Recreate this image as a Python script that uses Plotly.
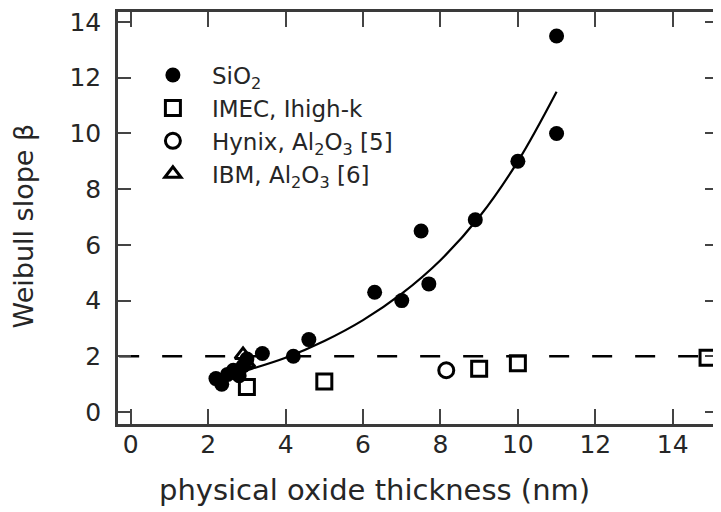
import plotly.graph_objects as go

# SiO2 data (filled circles)
sio2_x = [2.2, 2.35, 2.5, 2.65, 2.8, 2.9, 3.0, 3.4, 4.2, 4.6, 6.3, 7.0, 7.5, 7.7, 8.9, 10.0, 11.0, 11.0]
sio2_y = [1.2, 1.0, 1.35, 1.5, 1.3, 1.65, 1.9, 2.1, 2.0, 2.6, 4.3, 4.0, 6.5, 4.6, 6.9, 9.0, 10.0, 13.5]

# IMEC high-k (open squares)
imec_x = [3.0, 5.0, 9.0, 10.0, 14.9]
imec_y = [0.9, 1.1, 1.55, 1.75, 1.95]

# Hynix Al2O3 (open circles)
hynix_x = [8.15]
hynix_y = [1.5]

# IBM Al2O3 (open triangles)
ibm_x = [2.9, 3.0]
ibm_y = [2.05, 1.75]

# fit curve
fit_x = [2.5, 3.0, 4.0, 5.0, 6.0, 7.0, 8.0, 9.0, 10.0, 11.0]
fit_y = [1.3, 1.5, 1.95, 2.55, 3.3, 4.25, 5.45, 7.0, 9.0, 11.5]

# reference level
ref_x = [-0.3, 15.2]
ref_y = [2.0, 2.0]

x_ticks = [0, 2, 4, 6, 8, 10, 12, 14]
y_ticks = [0, 2, 4, 6, 8, 10, 12, 14]

FONT = "DejaVu Sans, Verdana, sans-serif"
INK = "#262626"

fig = go.Figure()

fig.add_trace(go.Scatter(x=ref_x, y=ref_y, mode="lines", showlegend=False,
                         line=dict(color="black", width=2.5, dash="20px,23px")))
fig.add_trace(go.Scatter(x=fit_x, y=fit_y, mode="lines", showlegend=False,
                         line=dict(color="black", width=2.2, shape="spline")))

fig.add_trace(go.Scatter(x=sio2_x, y=sio2_y, mode="markers", name="SiO<sub>2</sub>",
                         marker=dict(symbol="circle", size=15, color="black")))
fig.add_trace(go.Scatter(x=imec_x, y=imec_y, mode="markers", name="IMEC, Ihigh-k",
                         marker=dict(symbol="square-open", size=15, color="black",
                                     line=dict(width=3, color="black"))))
fig.add_trace(go.Scatter(x=hynix_x, y=hynix_y, mode="markers",
                         name="Hynix, Al<sub>2</sub>O<sub>3</sub> [5]",
                         marker=dict(symbol="circle-open", size=15, color="black",
                                     line=dict(width=3, color="black"))))
fig.add_trace(go.Scatter(x=ibm_x, y=ibm_y, mode="markers",
                         name="IBM, Al<sub>2</sub>O<sub>3</sub> [6]",
                         marker=dict(symbol="triangle-up-open", size=14, color="black",
                                     line=dict(width=3, color="black"))))

fig.update_layout(
    width=713, height=504,
    margin=dict(l=110, r=0, t=2, b=88),
    paper_bgcolor="white", plot_bgcolor="white",
    font=dict(family=FONT, color=INK, size=23),
    showlegend=True,
    legend=dict(x=0.0265, y=0.899, xanchor="left", yanchor="top",
                bgcolor="rgba(0,0,0,0)", font=dict(size=23, color=INK),
                itemwidth=68, tracegroupgap=0),
    xaxis=dict(range=[-0.33, 15.17], tickvals=x_ticks, ticks="inside", ticklen=15,
               tickwidth=2, tickcolor="#444", showline=True, linecolor="#3a3a3a",
               linewidth=2.5, mirror="ticks", showgrid=False, zeroline=False,
               tickfont=dict(size=25, color=INK), ticklabelstandoff=-4,
               ticklabeloverflow="allow"),
    yaxis=dict(range=[-0.43, 14.36], tickvals=y_ticks, ticks="inside", ticklen=13,
               tickwidth=2, tickcolor="#444", showline=True, linecolor="#3a3a3a",
               linewidth=2.5, mirror="ticks", showgrid=False, zeroline=False,
               tickfont=dict(size=25, color=INK), ticklabelstandoff=9,
               ticklabeloverflow="allow"),
    annotations=[
        dict(text="physical oxide thickness (nm)", xref="paper", yref="paper",
             x=0.428, y=-0.159, xanchor="center", yanchor="middle", showarrow=False,
             font=dict(size=29, color=INK)),
        dict(text="Weibull slope β", xref="paper", yref="paper",
             x=-0.158, y=0.48, xanchor="center", yanchor="middle", showarrow=False,
             textangle=-90, font=dict(size=27, color=INK)),
    ],
)

fig.write_html("out.html")
